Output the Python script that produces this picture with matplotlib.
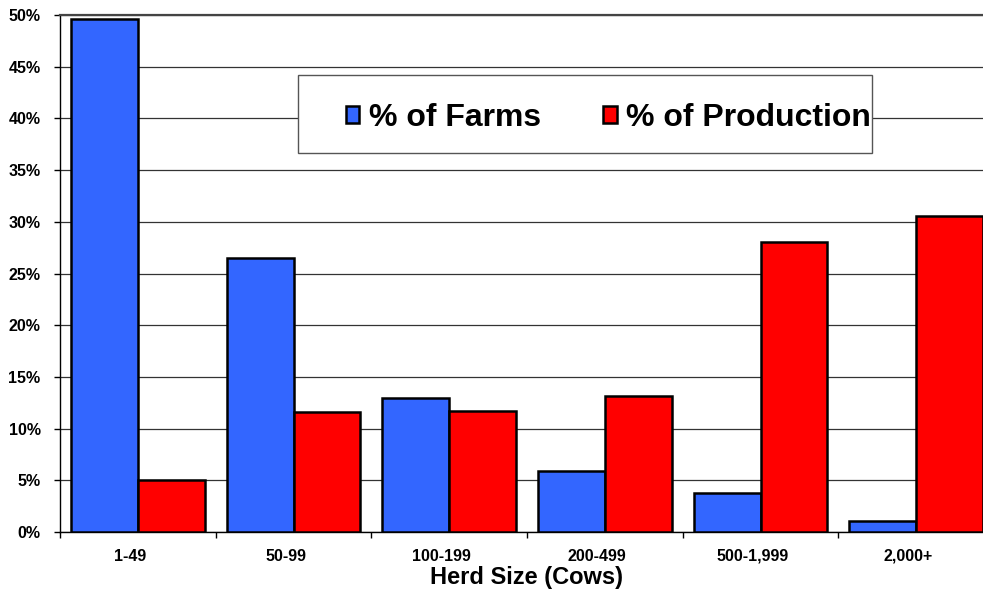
import matplotlib
matplotlib.use("Agg")
import matplotlib.pyplot as plt
import matplotlib.transforms as mtransforms
import numpy as np
from matplotlib.patches import Rectangle
from matplotlib.ticker import FixedLocator, FuncFormatter

plt.rcParams["font.family"] = ["Liberation Sans", "DejaVu Sans"]
plt.rcParams["font.weight"] = "bold"

herd_sizes = ["1-49", "50-99", "100-199", "200-499", "500-1,999", "2,000+"]
pct_farms = [49.6, 26.5, 13.0, 5.9, 3.8, 1.05]
pct_production = [5.0, 11.6, 11.7, 13.2, 28.0, 30.6]

farm_color = "#3366FF"
prod_color = "#FF0000"

W, H = 983, 592
fig = plt.figure(figsize=(W / 100, H / 100), dpi=100)

# plot area runs past the right edge of the canvas, so the last group is clipped
x0, x1 = 60, 994
y_top, y_zero = 15, 532
ax = fig.add_axes([x0 / W, (H - y_zero) / H, (x1 - x0) / W, (y_zero - y_top) / H])

x = np.arange(len(herd_sizes))
bar_w = 0.43
ax.bar(x - bar_w, pct_farms, width=bar_w, align="edge", color=farm_color,
       edgecolor="black", linewidth=1.8, label="% of Farms", zorder=3)
ax.bar(x, pct_production, width=bar_w, align="edge", color=prod_color,
       edgecolor="black", linewidth=1.8, label="% of Production", zorder=3)

ax.set_xlim(-0.5, len(herd_sizes) - 0.5)
ax.set_ylim(0, 50)
ax.set_yticks(np.arange(0, 51, 5))
ax.yaxis.set_major_formatter(FuncFormatter(lambda v, _: f"{v:.0f}%"))
ax.grid(axis="y", color="#333333", linewidth=0.9, zorder=0)
ax.set_axisbelow(True)

# category labels at the centres, tick marks at the group boundaries
ax.set_xticks(x)
ax.set_xticklabels(herd_sizes)
ax.xaxis.set_minor_locator(FixedLocator(np.arange(-0.5, len(herd_sizes), 1.0)))
ax.tick_params(axis="x", which="major", length=0, pad=12, labelsize=11.5)
ax.tick_params(axis="x", which="minor", length=4, width=1, direction="out")
ax.tick_params(axis="y", length=4, width=1, direction="out", pad=10, labelsize=11.5)
shift = mtransforms.ScaledTranslation(-8 / 100, 0, fig.dpi_scale_trans)
for lbl in ax.get_xticklabels():
    lbl.set_transform(lbl.get_transform() + shift)

ax.set_xlabel("Herd Size (Cows)", fontsize=17, fontweight="bold", labelpad=2)

ax.spines["right"].set_visible(False)
ax.spines["top"].set_color("#444444")
ax.spines["top"].set_linewidth(1.6)
ax.spines["left"].set_linewidth(1.0)
ax.spines["bottom"].set_linewidth(1.0)

# legend box drawn as its own patch so the padding can be uneven
box = Rectangle((298 / W, (H - 153) / H), 574 / W, 78 / H, transform=fig.transFigure,
                facecolor="white", edgecolor="#555555", linewidth=1.0, zorder=4)
ax.add_patch(box)
box.set_clip_on(False)

leg = ax.legend(loc="center left", bbox_to_anchor=(346 / W, (H - 118) / H),
                bbox_transform=fig.transFigure, ncol=2, frameon=False,
                prop={"weight": "bold", "size": 23},
                handlelength=0.42, handleheight=0.42, handletextpad=0.3,
                columnspacing=1.95, borderpad=0, borderaxespad=0)
leg.set_zorder(6)

fig.savefig("out.png", dpi=100)
